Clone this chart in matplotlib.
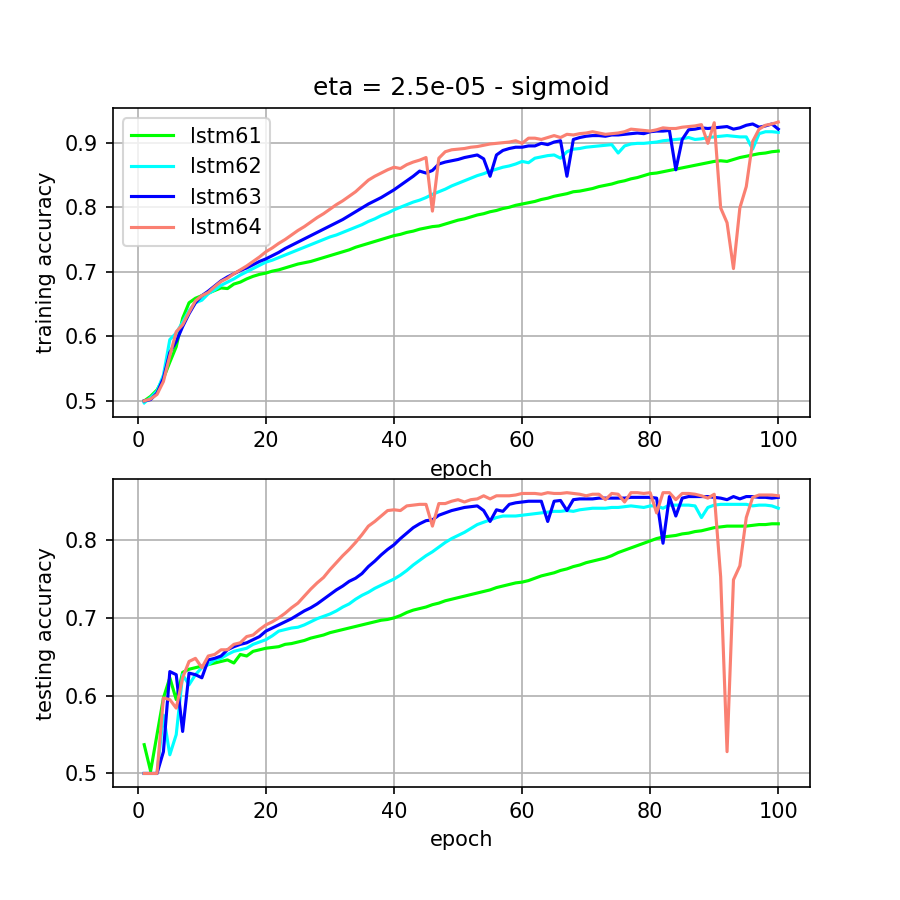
import matplotlib
matplotlib.use("Agg")
import matplotlib.pyplot as plt
from matplotlib.ticker import MultipleLocator

epochs = list(range(1, 101))
labels = ["lstm61", "lstm62", "lstm63", "lstm64"]
colors = ["#00ff00", "#00ffff", "#0000ff", "#fa8072"]
title = "eta = 2.5e-05 - sigmoid"

train_lstm61 = [
    0.500, 0.507, 0.517, 0.535, 0.560, 0.584, 0.628, 0.652, 0.659, 0.663,
    0.667, 0.671, 0.675, 0.674, 0.681, 0.684, 0.689, 0.693, 0.696, 0.698,
    0.701, 0.703, 0.706, 0.709, 0.712, 0.714, 0.716, 0.719, 0.722, 0.725,
    0.728, 0.731, 0.734, 0.738, 0.741, 0.744, 0.747, 0.750, 0.753, 0.756,
    0.758, 0.761, 0.763, 0.766, 0.768, 0.770, 0.771, 0.774, 0.777, 0.780,
    0.782, 0.785, 0.788, 0.790, 0.793, 0.795, 0.798, 0.800, 0.803, 0.805,
    0.807, 0.809, 0.812, 0.814, 0.817, 0.819, 0.821, 0.824, 0.825, 0.827,
    0.829, 0.832, 0.834, 0.836, 0.839, 0.841, 0.844, 0.846, 0.849, 0.852,
    0.853, 0.855, 0.857, 0.859, 0.861, 0.863, 0.865, 0.867, 0.869, 0.871,
    0.872, 0.871, 0.874, 0.877, 0.879, 0.881, 0.883, 0.884, 0.886, 0.887,
]
train_lstm62 = [
    0.497, 0.505, 0.515, 0.540, 0.595, 0.605, 0.622, 0.640, 0.652, 0.656,
    0.666, 0.672, 0.679, 0.684, 0.689, 0.695, 0.700, 0.705, 0.710, 0.715,
    0.718, 0.722, 0.726, 0.730, 0.734, 0.738, 0.742, 0.746, 0.750, 0.754,
    0.757, 0.761, 0.765, 0.769, 0.773, 0.778, 0.782, 0.787, 0.791, 0.796,
    0.800, 0.804, 0.808, 0.811, 0.815, 0.820, 0.824, 0.828, 0.833, 0.837,
    0.841, 0.845, 0.849, 0.852, 0.856, 0.859, 0.862, 0.864, 0.867, 0.871,
    0.869, 0.876, 0.878, 0.880, 0.881, 0.876, 0.886, 0.890, 0.891, 0.893,
    0.894, 0.895, 0.896, 0.897, 0.884, 0.895, 0.898, 0.899, 0.899, 0.900,
    0.901, 0.903, 0.904, 0.905, 0.906, 0.908, 0.905, 0.906, 0.908, 0.909,
    0.910, 0.911, 0.910, 0.909, 0.909, 0.890, 0.914, 0.917, 0.917, 0.916,
]
train_lstm63 = [
    0.500, 0.502, 0.512, 0.535, 0.575, 0.592, 0.615, 0.635, 0.652, 0.663,
    0.670, 0.678, 0.686, 0.692, 0.697, 0.702, 0.706, 0.711, 0.716, 0.720,
    0.725, 0.730, 0.736, 0.741, 0.746, 0.751, 0.756, 0.761, 0.766, 0.771,
    0.776, 0.781, 0.787, 0.793, 0.799, 0.805, 0.810, 0.815, 0.821, 0.827,
    0.834, 0.841, 0.848, 0.856, 0.853, 0.857, 0.867, 0.870, 0.872, 0.874,
    0.877, 0.879, 0.881, 0.875, 0.848, 0.881, 0.888, 0.891, 0.893, 0.893,
    0.895, 0.895, 0.899, 0.897, 0.901, 0.903, 0.848, 0.905, 0.908, 0.910,
    0.911, 0.911, 0.910, 0.912, 0.912, 0.913, 0.914, 0.915, 0.914, 0.917,
    0.918, 0.918, 0.919, 0.858, 0.905, 0.920, 0.921, 0.923, 0.922, 0.923,
    0.924, 0.925, 0.921, 0.923, 0.927, 0.929, 0.924, 0.926, 0.929, 0.921,
]
train_lstm64 = [
    0.500, 0.503, 0.510, 0.530, 0.570, 0.607, 0.618, 0.637, 0.655, 0.663,
    0.668, 0.677, 0.685, 0.690, 0.697, 0.703, 0.709, 0.716, 0.723, 0.731,
    0.737, 0.744, 0.750, 0.757, 0.764, 0.770, 0.777, 0.784, 0.790, 0.797,
    0.804, 0.810, 0.817, 0.824, 0.833, 0.842, 0.848, 0.853, 0.858, 0.862,
    0.860, 0.866, 0.870, 0.873, 0.877, 0.794, 0.876, 0.886, 0.889, 0.890,
    0.891, 0.893, 0.894, 0.896, 0.898, 0.899, 0.900, 0.901, 0.903, 0.899,
    0.907, 0.907, 0.905, 0.908, 0.911, 0.908, 0.913, 0.912, 0.914, 0.915,
    0.917, 0.915, 0.913, 0.914, 0.915, 0.917, 0.921, 0.920, 0.919, 0.918,
    0.920, 0.923, 0.922, 0.922, 0.924, 0.925, 0.926, 0.928, 0.899, 0.931,
    0.799, 0.776, 0.705, 0.799, 0.832, 0.902, 0.921, 0.927, 0.929, 0.932,
]

test_lstm61 = [
    0.537, 0.503, 0.550, 0.597, 0.623, 0.595, 0.630, 0.634, 0.636, 0.638,
    0.640, 0.642, 0.644, 0.646, 0.642, 0.653, 0.651, 0.657, 0.659, 0.661,
    0.662, 0.663, 0.666, 0.667, 0.669, 0.671, 0.674, 0.676, 0.678, 0.681,
    0.683, 0.685, 0.687, 0.689, 0.691, 0.693, 0.695, 0.697, 0.698, 0.700,
    0.703, 0.707, 0.710, 0.712, 0.714, 0.717, 0.719, 0.722, 0.724, 0.726,
    0.728, 0.730, 0.732, 0.734, 0.736, 0.739, 0.741, 0.743, 0.745, 0.746,
    0.748, 0.751, 0.754, 0.756, 0.758, 0.761, 0.763, 0.766, 0.768, 0.771,
    0.773, 0.775, 0.777, 0.780, 0.784, 0.787, 0.790, 0.793, 0.796, 0.799,
    0.802, 0.804, 0.805, 0.806, 0.808, 0.809, 0.811, 0.812, 0.814, 0.816,
    0.817, 0.818, 0.818, 0.818, 0.818, 0.819, 0.820, 0.820, 0.821, 0.821,
]
test_lstm62 = [
    0.500, 0.500, 0.500, 0.575, 0.524, 0.550, 0.627, 0.614, 0.627, 0.636,
    0.640, 0.646, 0.648, 0.653, 0.657, 0.659, 0.661, 0.666, 0.669, 0.672,
    0.677, 0.683, 0.685, 0.687, 0.688, 0.691, 0.695, 0.699, 0.702, 0.705,
    0.709, 0.714, 0.718, 0.724, 0.729, 0.733, 0.738, 0.742, 0.746, 0.750,
    0.755, 0.761, 0.768, 0.774, 0.780, 0.785, 0.791, 0.797, 0.802, 0.806,
    0.810, 0.815, 0.820, 0.823, 0.826, 0.829, 0.831, 0.831, 0.831, 0.832,
    0.833, 0.834, 0.835, 0.836, 0.837, 0.837, 0.838, 0.837, 0.839, 0.840,
    0.841, 0.841, 0.841, 0.842, 0.842, 0.843, 0.844, 0.843, 0.842, 0.844,
    0.844, 0.841, 0.845, 0.845, 0.845, 0.845, 0.844, 0.829, 0.842, 0.845,
    0.846, 0.846, 0.846, 0.846, 0.846, 0.844, 0.845, 0.845, 0.844, 0.841,
]
test_lstm63 = [
    0.500, 0.500, 0.500, 0.528, 0.631, 0.627, 0.554, 0.629, 0.627, 0.623,
    0.646, 0.648, 0.651, 0.659, 0.663, 0.666, 0.668, 0.672, 0.676, 0.683,
    0.687, 0.691, 0.695, 0.699, 0.704, 0.709, 0.713, 0.718, 0.724, 0.730,
    0.736, 0.741, 0.747, 0.751, 0.757, 0.766, 0.773, 0.781, 0.788, 0.794,
    0.802, 0.809, 0.816, 0.821, 0.825, 0.826, 0.832, 0.835, 0.838, 0.840,
    0.842, 0.843, 0.844, 0.838, 0.824, 0.839, 0.837, 0.846, 0.848, 0.849,
    0.850, 0.850, 0.850, 0.824, 0.850, 0.851, 0.838, 0.852, 0.853, 0.853,
    0.853, 0.854, 0.854, 0.854, 0.854, 0.854, 0.855, 0.855, 0.855, 0.855,
    0.854, 0.796, 0.856, 0.831, 0.854, 0.856, 0.856, 0.856, 0.856, 0.855,
    0.854, 0.852, 0.856, 0.853, 0.856, 0.856, 0.855, 0.855, 0.854, 0.855,
]
test_lstm64 = [
    0.500, 0.500, 0.500, 0.597, 0.595, 0.584, 0.623, 0.644, 0.648, 0.636,
    0.651, 0.653, 0.659, 0.659, 0.666, 0.668, 0.676, 0.678, 0.685, 0.691,
    0.695, 0.700, 0.706, 0.713, 0.719, 0.728, 0.737, 0.745, 0.752, 0.762,
    0.771, 0.780, 0.788, 0.797, 0.807, 0.818, 0.824, 0.831, 0.838, 0.839,
    0.838, 0.844, 0.845, 0.846, 0.846, 0.818, 0.847, 0.847, 0.850, 0.852,
    0.849, 0.852, 0.853, 0.857, 0.853, 0.857, 0.857, 0.857, 0.858, 0.860,
    0.860, 0.860, 0.859, 0.861, 0.860, 0.860, 0.861, 0.860, 0.859, 0.857,
    0.859, 0.859, 0.852, 0.860, 0.859, 0.849, 0.861, 0.861, 0.860, 0.861,
    0.835, 0.861, 0.861, 0.852, 0.860, 0.860, 0.859, 0.857, 0.854, 0.859,
    0.753, 0.528, 0.749, 0.767, 0.829, 0.855, 0.858, 0.858, 0.858, 0.857,
]

train = [train_lstm61, train_lstm62, train_lstm63, train_lstm64]
test = [test_lstm61, test_lstm62, test_lstm63, test_lstm64]

fig, (ax1, ax2) = plt.subplots(2, 1, figsize=(6, 6), dpi=150)
fig.subplots_adjust(left=0.125, right=0.9, top=0.88, bottom=0.125, hspace=0.2)

for ys, lab, col in zip(train, labels, colors):
    ax1.plot(epochs, ys, color=col, label=lab)
ax1.set_title(title)
ax1.set_xlabel("epoch")
ax1.set_ylabel("training accuracy")
ax1.grid(True)
ax1.legend(loc="upper left")

for ys, lab, col in zip(test, labels, colors):
    ax2.plot(epochs, ys, color=col, label=lab)
ax2.set_xlabel("epoch")
ax2.set_ylabel("testing accuracy")
ax2.grid(True)

for ax in (ax1, ax2):
    ax.yaxis.set_major_locator(MultipleLocator(0.1))
    ax.xaxis.set_major_locator(MultipleLocator(20))

fig.savefig("out.png", dpi=150)
